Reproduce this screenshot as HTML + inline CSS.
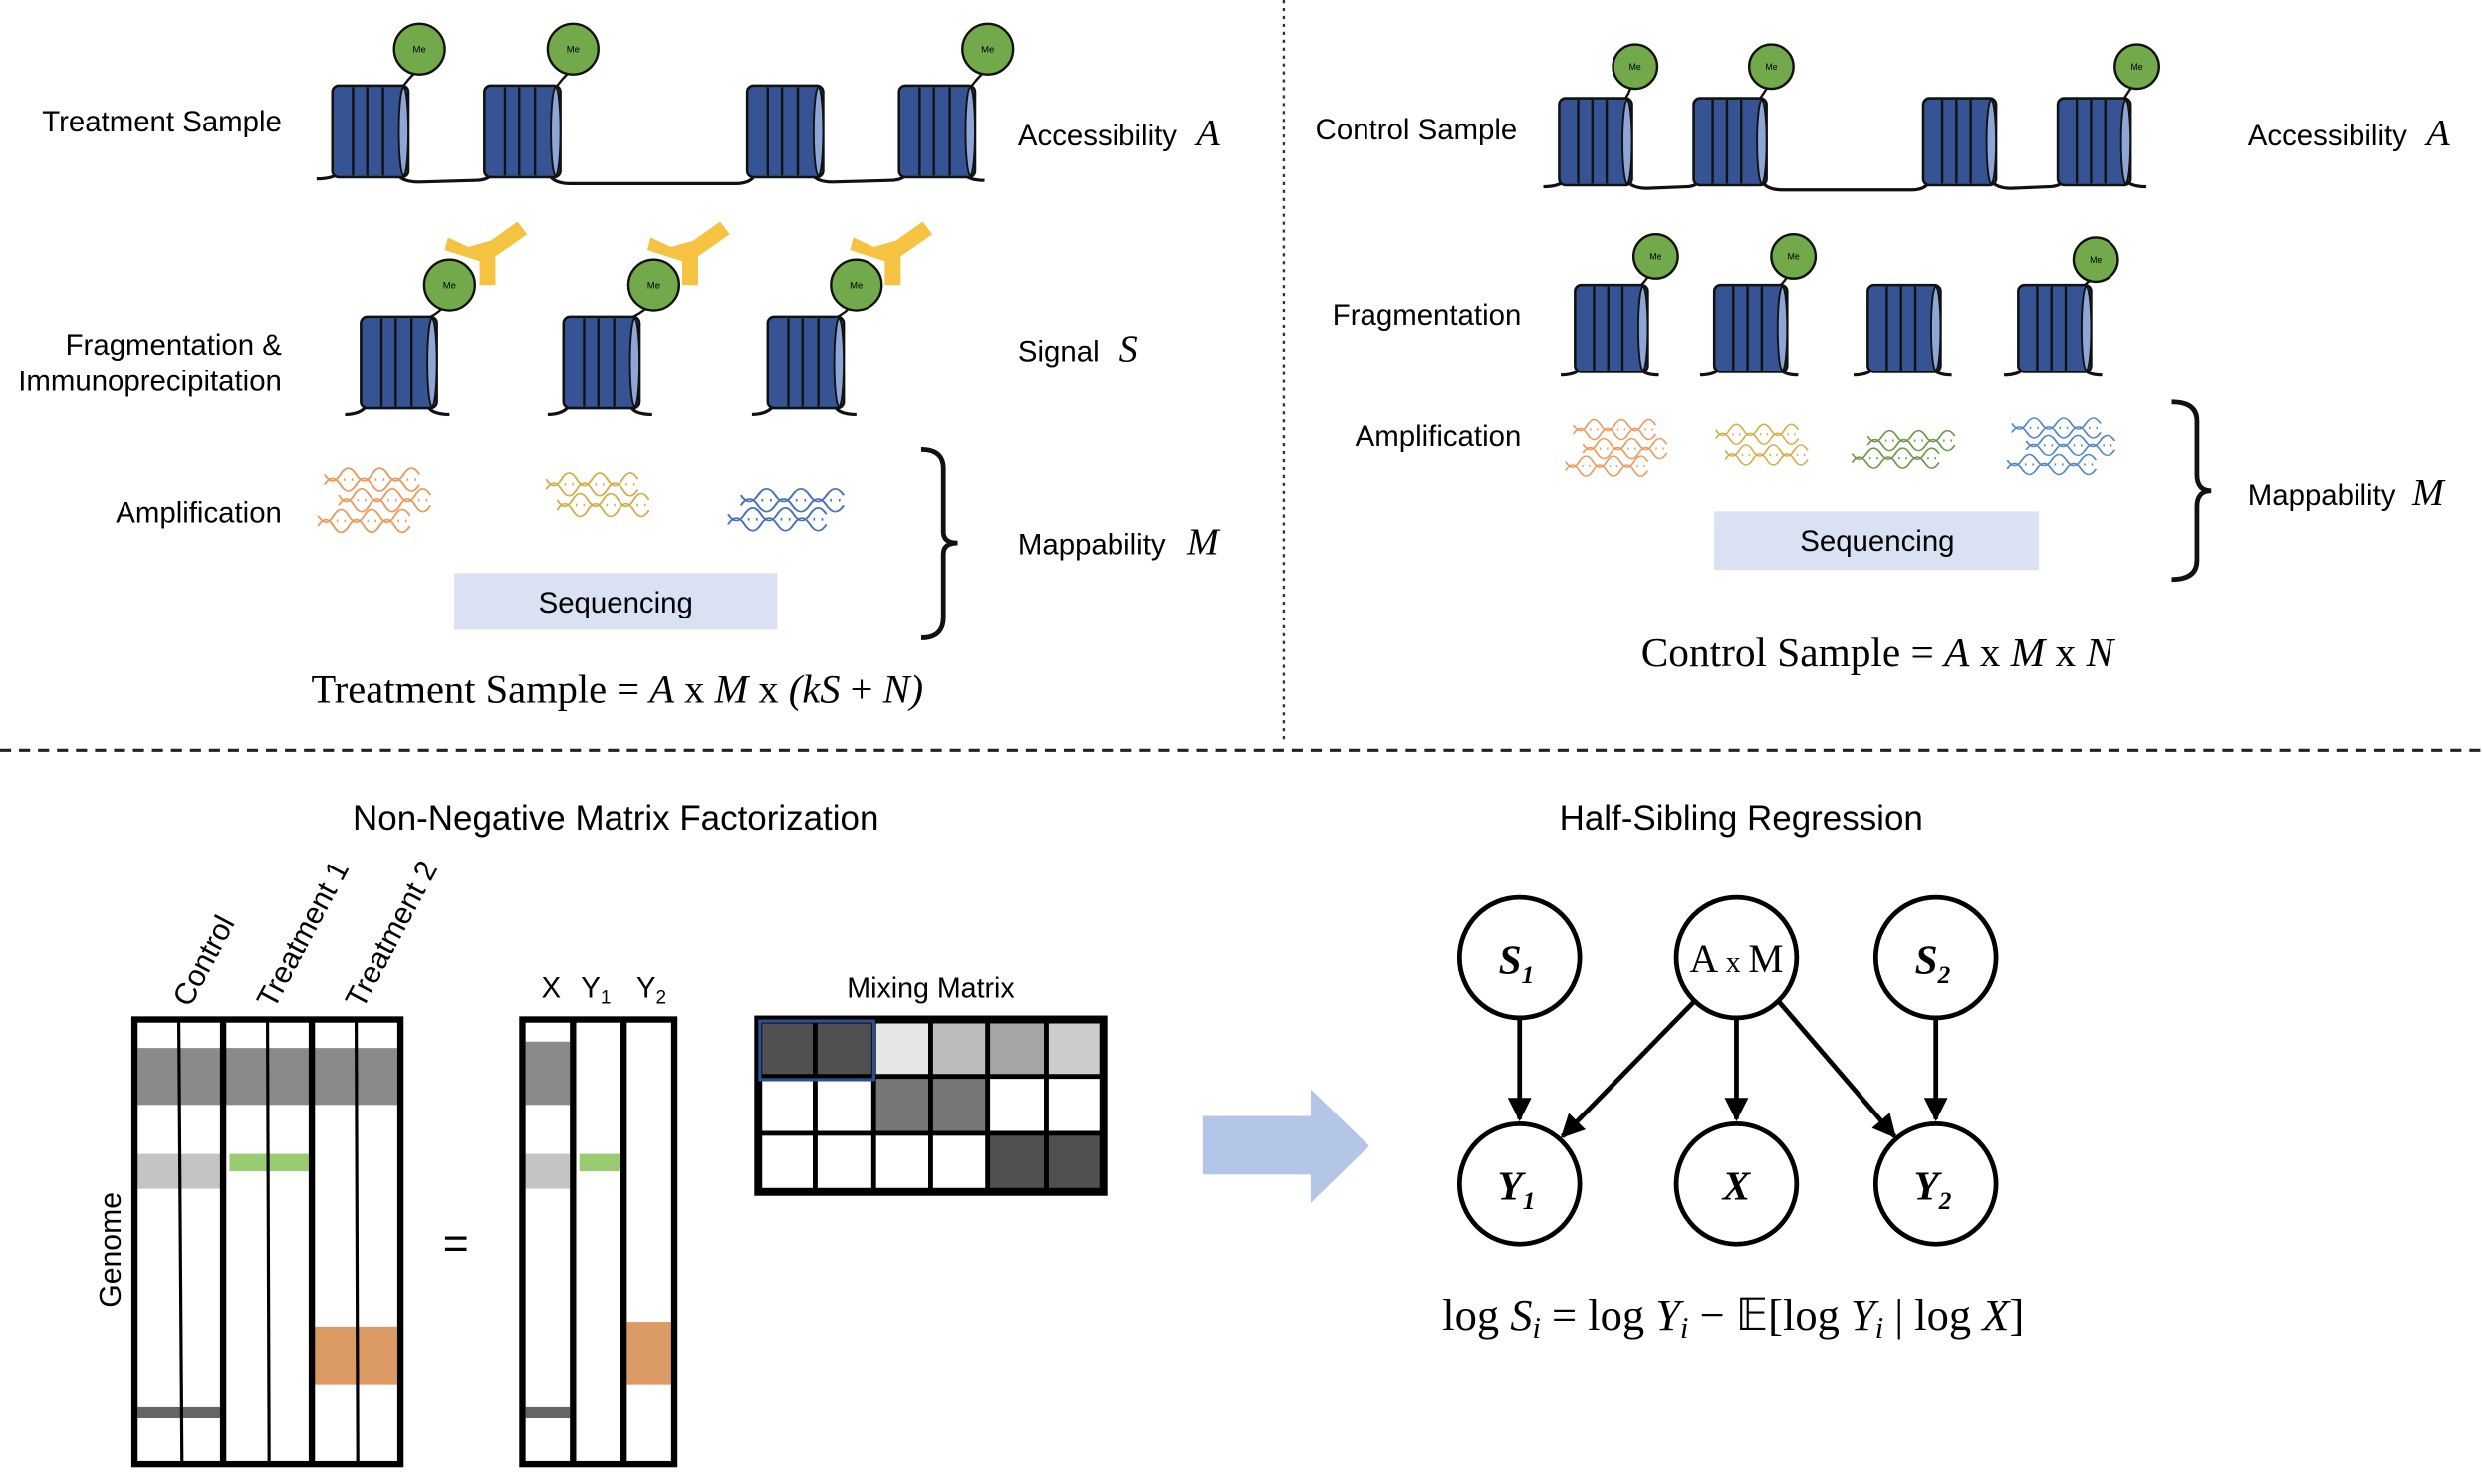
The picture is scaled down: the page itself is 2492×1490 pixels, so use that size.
<!DOCTYPE html>
<html><head><meta charset="utf-8"><style>
html,body{margin:0;padding:0;background:#fff}
svg{display:block}
text{font-family:"Liberation Sans",sans-serif;fill:#000}
.serif{font-family:"Liberation Serif",serif}
</style></head><body>
<svg width="2492" height="1490" viewBox="0 0 1568 937.5" xmlns="http://www.w3.org/2000/svg">
<defs>
<g id="nuc">
  <rect x="0" y="0" width="48" height="58" rx="4" fill="#365493" stroke="#111" stroke-width="1.6"/>
  <line x1="13" y1="1" x2="13" y2="57" stroke="#111" stroke-width="1.5"/>
  <line x1="22" y1="1" x2="22" y2="57" stroke="#111" stroke-width="1.5"/>
  <line x1="32" y1="1" x2="32" y2="57" stroke="#111" stroke-width="1.5"/>
  <ellipse cx="45" cy="29" rx="3" ry="28" fill="#8ea6d6" stroke="#111" stroke-width="1.2"/>
</g>
<g id="nuc2">
  <rect x="0" y="0" width="46" height="55" rx="4" fill="#365493" stroke="#111" stroke-width="1.6"/>
  <line x1="12" y1="1" x2="12" y2="54" stroke="#111" stroke-width="1.5"/>
  <line x1="21" y1="1" x2="21" y2="54" stroke="#111" stroke-width="1.5"/>
  <line x1="30" y1="1" x2="30" y2="54" stroke="#111" stroke-width="1.5"/>
  <ellipse cx="43" cy="27.5" rx="3" ry="26.5" fill="#8ea6d6" stroke="#111" stroke-width="1.2"/>
</g>
<symbol id="hx" viewBox="0 0 60 10" preserveAspectRatio="none" overflow="visible">
  <path d="M0,1 Q5,11 10,1 T20,1 T30,1 T40,1 T50,1 T60,1" fill="none" stroke-width="1.3" stroke="inherit"/>
  <path d="M0,9 Q5,-1 10,9 T20,9 T30,9 T40,9 T50,9 T60,9" fill="none" stroke-width="1.3" stroke="inherit"/>
  <path d="M2.5,4 V6 M7.5,4 V6 M12.5,4 V6 M17.5,4 V6 M22.5,4 V6 M27.5,4 V6 M32.5,4 V6 M37.5,4 V6 M42.5,4 V6 M47.5,4 V6 M52.5,4 V6 M57.5,4 V6" stroke-width="1" stroke="inherit"/>
</symbol>
<marker id="ar" viewBox="0 0 10 10" refX="9" refY="5" markerWidth="5" markerHeight="5" orient="auto"><path d="M0,0 L10,5 L0,10 z" fill="#000"/></marker>
</defs>

<!-- dividers -->
<line x1="811" y1="0" x2="811" y2="470" stroke="#333" stroke-width="1.5" stroke-dasharray="2,3"/>
<line x1="0" y1="474" x2="1568" y2="474" stroke="#222" stroke-width="2" stroke-dasharray="7,5"/>

<!-- Treatment top row -->
<path d="M200,113 Q212,113 215,108 M250,108 Q252,115 265,115 L300,114 Q310,114 312,108 M346,108 Q348,116 360,116 L465,116 Q476,116 478,108 M512,108 Q514,115 526,115 L562,114 Q572,114 574,108 M608,108 Q610,114 622,114" fill="none" stroke="#111" stroke-width="2"/>
<use href="#nuc" x="210" y="54"/>
<use href="#nuc" x="306" y="54"/>
<use href="#nuc" x="472" y="54"/>
<use href="#nuc" x="568" y="54"/>
<g stroke="#111" stroke-width="1.5" fill="#72a94a">
<path d="M255,54 Q258,50 262,46" fill="none"/><circle cx="265" cy="31" r="16"/>
<path d="M352,54 Q355,50 359,46" fill="none"/><circle cx="362" cy="31" r="16"/>
<path d="M614,54 Q617,50 621,46" fill="none"/><circle cx="624" cy="31" r="16"/>
</g>
<g font-size="6" text-anchor="middle"><text x="265" y="33">Me</text><text x="362" y="33">Me</text><text x="624" y="33">Me</text></g>

<!-- Treatment row 2 -->
<g fill="#f5c242">
<path d="M283,150 L296,156 L310,152 L327,140 L333,148 L313,162 L313,180 L303,180 L303,165 L281,158z"/>
<path d="M411,150 L424,156 L438,152 L455,140 L461,148 L441,162 L441,180 L431,180 L431,165 L409,158z"/>
<path d="M539,150 L552,156 L566,152 L583,140 L589,148 L569,162 L569,180 L559,180 L559,165 L537,158z"/>
</g>
<g fill="none" stroke="#111" stroke-width="2">
<path d="M218,262 Q228,262 232,256 M270,256 Q272,262 284,262"/>
<path d="M346,262 Q356,262 360,256 M398,256 Q400,262 412,262"/>
<path d="M475,262 Q485,262 489,256 M527,256 Q529,262 541,262"/>
</g>
<use href="#nuc" x="228" y="200"/>
<use href="#nuc" x="356" y="200"/>
<use href="#nuc" x="485" y="200"/>
<g stroke="#111" stroke-width="1.5" fill="#72a94a">
<path d="M272,200 Q276,198 279,195" fill="none"/><circle cx="284" cy="180" r="16"/>
<path d="M400,200 Q404,198 408,195" fill="none"/><circle cx="413" cy="180" r="16"/>
<path d="M529,200 Q533,198 536,195" fill="none"/><circle cx="541" cy="180" r="16"/>
</g>
<g font-size="6" text-anchor="middle"><text x="284" y="182">Me</text><text x="413" y="182">Me</text><text x="541" y="182">Me</text></g>

<!-- treatment amplification -->
<g stroke="#ec9a5e"><use href="#hx" x="205" y="299" width="60" height="8"/><use href="#hx" x="214" y="312" width="58" height="8"/><use href="#hx" x="201" y="325" width="58" height="8"/></g>
<g stroke="#d4ae4a"><use href="#hx" x="345" y="302" width="58" height="8"/><use href="#hx" x="352" y="315" width="58" height="8"/></g>
<g stroke="#4a72b8"><use href="#hx" x="468" y="312" width="65" height="8"/><use href="#hx" x="460" y="324" width="62" height="8"/></g>
<path d="M582,284 Q596,284 596,296 L596,336 Q596,343 605,343 Q596,343 596,350 L596,390 Q596,403 582,403" fill="none" stroke="#111" stroke-width="3"/>
<rect x="287" y="362" width="204" height="36" fill="#d9e1f2"/>
<text x="389" y="387" font-size="18.5" text-anchor="middle">Sequencing</text>

<g font-size="18.5">
<text x="178" y="83" text-anchor="end">Treatment Sample</text>
<text x="178" y="224" text-anchor="end">Fragmentation &amp;</text>
<text x="178" y="247" text-anchor="end">Immunoprecipitation</text>
<text x="178" y="330" text-anchor="end">Amplification</text>
<text x="643" y="92">Accessibility</text>
<text x="643" y="228">Signal</text>
<text x="643" y="350">Mappability</text>
</g>
<g class="serif" font-size="24" font-style="italic">
<text x="756" y="92" class="serif">A</text>
<text x="707" y="228" class="serif">S</text>
<text x="750" y="350" class="serif">M</text>
</g>
<text x="390" y="444" class="serif" font-size="25.5" text-anchor="middle">Treatment Sample = <tspan font-style="italic">A</tspan> x <tspan font-style="italic">M</tspan> x <tspan font-style="italic">(kS</tspan> + <tspan font-style="italic">N)</tspan></text>

<!-- Control top row -->
<path d="M975,118 Q987,118 990,112 M1027,112 Q1029,119 1041,119 L1065,118 Q1073,118 1075,112 M1112,112 Q1114,120 1126,120 L1208,120 Q1218,120 1220,112 M1257,112 Q1259,119 1271,119 L1294,118 Q1303,118 1305,112 M1342,112 Q1344,118 1356,118" fill="none" stroke="#111" stroke-width="2"/>
<use href="#nuc2" x="985" y="62"/>
<use href="#nuc2" x="1070" y="62"/>
<use href="#nuc2" x="1215" y="62"/>
<use href="#nuc2" x="1300" y="62"/>
<g stroke="#111" stroke-width="1.5" fill="none">
<path d="M1027,62 Q1029,59 1030,56"/><path d="M1112,62 Q1114,59 1116,56"/><path d="M1342,62 Q1344,59 1346,56"/>
<path d="M1037,180 Q1039,178 1041,175"/><path d="M1125,180 Q1127,178 1129,175"/><path d="M1317,180 Q1319,178 1321,177"/>
</g>
<g stroke="#111" stroke-width="1.5" fill="#72a94a">
<circle cx="1033" cy="42" r="14"/><circle cx="1119" cy="42" r="14"/><circle cx="1350" cy="42" r="14"/>
<circle cx="1046" cy="162" r="14"/><circle cx="1133" cy="162" r="14"/><circle cx="1324" cy="164" r="14"/>
</g>
<g font-size="5.5" text-anchor="middle"><text x="1033" y="44">Me</text><text x="1119" y="44">Me</text><text x="1350" y="44">Me</text><text x="1046" y="164">Me</text><text x="1133" y="164">Me</text><text x="1324" y="166">Me</text></g>
<g fill="none" stroke="#111" stroke-width="2">
<path d="M986,237 Q996,237 999,232 M1036,232 Q1038,237 1048,237"/>
<path d="M1074,237 Q1084,237 1087,232 M1124,232 Q1126,237 1136,237"/>
<path d="M1171,237 Q1181,237 1184,232 M1221,232 Q1223,237 1233,237"/>
<path d="M1266,237 Q1276,237 1279,232 M1316,232 Q1318,237 1328,237"/>
</g>
<use href="#nuc2" x="995" y="180"/>
<use href="#nuc2" x="1083" y="180"/>
<use href="#nuc2" x="1180" y="180"/>
<use href="#nuc2" x="1275" y="180"/>

<g stroke="#ec9a5e"><use href="#hx" x="994" y="268" width="52" height="7"/><use href="#hx" x="1000" y="280" width="53" height="7"/><use href="#hx" x="989" y="291" width="52" height="7"/></g>
<g stroke="#d4ae4a"><use href="#hx" x="1084" y="271" width="52" height="7"/><use href="#hx" x="1090" y="284" width="52" height="7"/></g>
<g stroke="#6c9a48"><use href="#hx" x="1180" y="275" width="55" height="7"/><use href="#hx" x="1170" y="286" width="55" height="7"/></g>
<g stroke="#5288c8"><use href="#hx" x="1271" y="267" width="56" height="7"/><use href="#hx" x="1280" y="278" width="56" height="7"/><use href="#hx" x="1268" y="290" width="56" height="7"/></g>
<rect x="1083" y="323" width="205" height="37" fill="#d9e1f2"/>
<text x="1186" y="348" font-size="18.5" text-anchor="middle">Sequencing</text>
<path d="M1372,254 Q1388,254 1388,266 L1388,300 Q1388,310 1397,310 Q1388,310 1388,320 L1388,354 Q1388,366 1372,366" fill="none" stroke="#111" stroke-width="3"/>
<g font-size="18.5">
<text x="831" y="88">Control Sample</text>
<text x="961" y="205" text-anchor="end">Fragmentation</text>
<text x="961" y="282" text-anchor="end">Amplification</text>
<text x="1420" y="92">Accessibility</text>
<text x="1420" y="319">Mappability</text>
</g>
<text x="1533" y="92" class="serif" font-size="24" font-style="italic">A</text>
<text x="1524" y="319" class="serif" font-size="24" font-style="italic">M</text>
<text x="1186" y="421" class="serif" font-size="26" text-anchor="middle">Control Sample = <tspan font-style="italic">A</tspan> x <tspan font-style="italic">M</tspan> x <tspan font-style="italic">N</tspan></text>

<!-- Bottom titles -->
<text x="389" y="524" font-size="22" text-anchor="middle">Non-Negative Matrix Factorization</text>
<text x="1100" y="524" font-size="22" text-anchor="middle">Half-Sibling Regression</text>

<!-- left matrix -->
<g>
<rect x="87" y="662" width="164" height="36" fill="#8a8a8a"/>
<rect x="87" y="729" width="54" height="22" fill="#c4c4c4"/>
<rect x="145" y="729" width="50" height="11" fill="#99cc70"/>
<rect x="197" y="838" width="54" height="37" fill="#dc9a64"/>
<rect x="87" y="889" width="54" height="7" fill="#666"/>
<g stroke="#000" stroke-width="2"><line x1="113" y1="645" x2="115" y2="924"/><line x1="169" y1="645" x2="170" y2="924"/><line x1="225" y1="645" x2="226" y2="924"/></g>
<g stroke="#000" stroke-width="4"><line x1="141" y1="643" x2="141" y2="926"/><line x1="197" y1="643" x2="197" y2="926"/></g>
<rect x="85" y="644" width="168" height="281" fill="none" stroke="#000" stroke-width="4"/>
</g>
<g font-size="19">
<text transform="translate(120,637) rotate(-62)">Control</text>
<text transform="translate(173,638) rotate(-62)">Treatment 1</text>
<text transform="translate(229,638) rotate(-62)">Treatment 2</text>
<text transform="translate(76,826) rotate(-90)">Genome</text>
</g>
<text x="288" y="795" font-size="28" text-anchor="middle">=</text>

<!-- middle matrix -->
<rect x="332" y="658" width="28" height="40" fill="#8a8a8a"/>
<rect x="332" y="729" width="28" height="22" fill="#c4c4c4"/>
<rect x="366" y="729" width="26" height="11" fill="#99cc70"/>
<rect x="396" y="835" width="28" height="40" fill="#dc9a64"/>
<rect x="332" y="889" width="28" height="7" fill="#666"/>
<g stroke="#000" stroke-width="4"><line x1="362" y1="643" x2="362" y2="926"/><line x1="394" y1="643" x2="394" y2="926"/></g>
<rect x="330" y="644" width="96" height="281" fill="none" stroke="#000" stroke-width="4"/>
<g font-size="18.5"><text x="342" y="630">X</text><text x="367" y="630">Y<tspan font-size="12" dy="4">1</tspan></text><text x="402" y="630">Y<tspan font-size="12" dy="4">2</tspan></text></g>

<!-- mixing matrix -->
<text x="588" y="630" font-size="18" text-anchor="middle">Mixing Matrix</text>
<g stroke="#000" stroke-width="3">
<rect x="480" y="645" width="35" height="35" fill="#505050"/><rect x="515" y="645" width="37" height="35" fill="#505050"/><rect x="552" y="645" width="36" height="35" fill="#e6e6e6"/><rect x="588" y="645" width="36" height="35" fill="#bbbbbb"/><rect x="624" y="645" width="37" height="35" fill="#a5a5a5"/><rect x="661" y="645" width="35" height="35" fill="#cccccc"/>
<rect x="480" y="680" width="35" height="36" fill="#fff"/><rect x="515" y="680" width="37" height="36" fill="#fff"/><rect x="552" y="680" width="36" height="36" fill="#777"/><rect x="588" y="680" width="36" height="36" fill="#777"/><rect x="624" y="680" width="37" height="36" fill="#fff"/><rect x="661" y="680" width="35" height="36" fill="#fff"/>
<rect x="480" y="716" width="35" height="36" fill="#fff"/><rect x="515" y="716" width="37" height="36" fill="#fff"/><rect x="552" y="716" width="36" height="36" fill="#fff"/><rect x="588" y="716" width="36" height="36" fill="#fff"/><rect x="624" y="716" width="37" height="36" fill="#505050"/><rect x="661" y="716" width="35" height="36" fill="#505050"/>
</g>
<rect x="478.5" y="643.5" width="219" height="110" fill="none" stroke="#000" stroke-width="4"/>
<rect x="480" y="645" width="72" height="37" fill="none" stroke="#2f4f8f" stroke-width="2"/>

<!-- big arrow -->
<path d="M760,705 L828,705 L828,688 L865,724 L828,760 L828,742 L760,742z" fill="#b4c6e7"/>

<!-- graph -->
<g stroke="#000" stroke-width="3" fill="none" marker-end="url(#ar)">
<line x1="960" y1="644" x2="960" y2="707"/>
<line x1="1070" y1="633" x2="987" y2="718"/>
<line x1="1097" y1="644" x2="1097" y2="707"/>
<line x1="1124" y1="633" x2="1197" y2="718"/>
<line x1="1223" y1="644" x2="1223" y2="707"/>
</g>
<g stroke="#000" stroke-width="3" fill="#fff">
<circle cx="960" cy="605" r="38"/><circle cx="1097" cy="605" r="38"/><circle cx="1223" cy="605" r="38"/>
<circle cx="960" cy="748" r="38"/><circle cx="1097" cy="748" r="38"/><circle cx="1223" cy="748" r="38"/>
</g>
<g class="serif" font-size="26" font-weight="bold" font-style="italic" text-anchor="middle">
<text x="958" y="615" class="serif">S<tspan font-size="16" dy="6">1</tspan></text>
<text x="1221" y="615" class="serif">S<tspan font-size="16" dy="6">2</tspan></text>
<text x="958" y="758" class="serif">Y<tspan font-size="16" dy="6">1</tspan></text>
<text x="1097" y="758" class="serif">X</text>
<text x="1221" y="758" class="serif">Y<tspan font-size="16" dy="6">2</tspan></text>
</g>
<text x="1097" y="614" class="serif" font-size="25" text-anchor="middle">A<tspan font-size="19"> x </tspan>M</text>
<text x="1095" y="840" class="serif" font-size="28" text-anchor="middle">log <tspan font-style="italic">S</tspan><tspan font-style="italic" font-size="19" dy="5">i</tspan><tspan dy="-5"> = log </tspan><tspan font-style="italic">Y</tspan><tspan font-style="italic" font-size="19" dy="5">i</tspan><tspan dy="-5"> − 𝔼[log </tspan><tspan font-style="italic">Y</tspan><tspan font-style="italic" font-size="19" dy="5">i</tspan><tspan dy="-5"> | log </tspan><tspan font-style="italic">X</tspan>]</text>
</svg>
</body></html>
